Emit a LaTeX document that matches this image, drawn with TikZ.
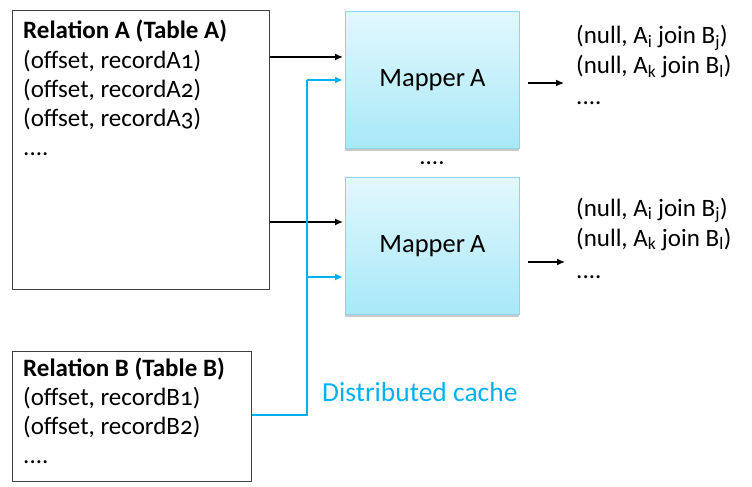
\documentclass[tikz,border=0pt]{standalone}
\usepackage{fontspec}
\setmainfont{Carlito}[Numbers=OldStyle]
\usetikzlibrary{arrows.meta,shadows}
\definecolor{cyanline}{HTML}{00B0F0}
\definecolor{maptop}{HTML}{E2F8FD}
\definecolor{mapbot}{HTML}{A8E8F8}
\definecolor{mapedge}{HTML}{8ED5EA}
\definecolor{boxedge}{HTML}{404040}
\begin{document}
\begin{tikzpicture}[x=1pt,y=-1pt,
  tbl/.style={draw=boxedge, line width=1.1pt, inner sep=0pt, anchor=north west},
  mapper/.style={draw=mapedge, line width=0.8pt, top color=maptop, bottom color=mapbot,
    minimum width=174pt, minimum height=137pt, anchor=north west,
    font=\fontsize{26.5}{31}\selectfont,
    drop shadow={shadow xshift=0pt, shadow yshift=-2.5pt, opacity=0.35, fill=black!60}},
  txt/.style={anchor=base west, inner sep=0pt, font=\fontsize{25}{29}\selectfont},
  bold/.style={txt, font=\fontsize{25}{29}\selectfont\bfseries},
  arr/.style={-{Latex[length=8pt,width=7pt]}, line width=1.4pt},
  cache/.style={draw=cyanline, line width=1.8pt},
  carr/.style={cache, -{Latex[length=8pt,width=7pt]}},
]
\path[use as bounding box] (0,0) rectangle (752,487);
% tables
\node[tbl, minimum width=257pt, minimum height=279pt] (A) at (12,10) {};
\node[tbl, minimum width=239pt, minimum height=130pt] (B) at (12,351) {};
% mappers
\node[mapper] (M1) at (345,11) {Mapper\kern-1pt\ A};
\node[mapper] (M2) at (345,177) {Mapper\kern-1pt\ A};
\node[anchor=base, inner sep=0pt, font=\fontsize{25}{29}\selectfont] (mdots) at (432,164) {....};
% table A text
\node[bold] (a0) at (23,39) {Relation A (Table A)};
\node[txt] (a1) at (23,68) {(offset, recordA1)};
\node[txt] (a2) at (23,97) {(offset, recordA2)};
\node[txt] (a3) at (23,126) {(offset, recordA3)};
\node[txt] (a4) at (23,155) {....};
% table B text
\node[bold] (b0) at (23,376) {Relation B (Table B)};
\node[txt] (b1) at (23,405) {(offset, recordB1)};
\node[txt] (b2) at (23,434) {(offset, recordB2)};
\node[txt] (b3) at (23,463) {....};
% outputs
\node[txt] (o11) at (576,44) {(null, A\textsubscript{i} join B\textsubscript{j})};
\node[txt] (o12) at (576,74) {(null, A\textsubscript{k} join B\textsubscript{l})};
\node[txt] (o13) at (576,104) {....};
\node[txt] (o21) at (576,216) {(null, A\textsubscript{i} join B\textsubscript{j})};
\node[txt] (o22) at (576,246) {(null, A\textsubscript{k} join B\textsubscript{l})};
\node[txt] (o23) at (576,278) {....};
% cache label
\node[txt, text=cyanline, font=\fontsize{27.5}{31}\selectfont] (cl) at (322,401) {Distributed cache};
% black arrows from table A
\coordinate (y1) at (0,57);
\coordinate (y2) at (0,222);
\draw[arr, shorten >=2pt] (A.east |- y1) -- (M1.west |- y1);
\draw[arr, shorten >=2pt] (A.east |- y2) -- (M2.west |- y2);
% distributed cache
\coordinate (c0) at (307,415);
\coordinate (c1) at (307,80);
\coordinate (c2) at (307,277);
\draw[cache] (B.east |- c0) -- (c0) -- (c1);
\draw[carr, shorten >=2pt] (c1) -- (M1.west |- c1);
\draw[carr, shorten >=2pt] (c2) -- (M2.west |- c2);
% output arrows
\coordinate (s1) at ([xshift=8pt]M1.east);
\coordinate (s2) at ([xshift=8pt]M2.east);
\coordinate (e1) at (564,83);
\coordinate (e2) at (565,262);
\draw[arr] (s1 |- e1) -- (e1);
\draw[arr] (s2 |- e2) -- (e2);
\end{tikzpicture}
\end{document}
